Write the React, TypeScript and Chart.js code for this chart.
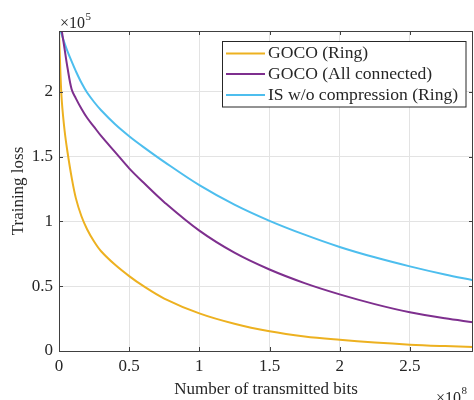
import { useEffect, useRef } from "react";
import { Chart, registerables } from "chart.js";

Chart.register(...registerables);

// x values in units of 1e8 bits, y values in units of 1e5
const bits = [0, 0.01, 0.02, 0.04, 0.06, 0.09, 0.12, 0.16, 0.2, 0.25, 0.3, 0.4, 0.5, 0.6, 0.75, 1.0, 1.25, 1.5, 1.75, 2.0, 2.25, 2.5, 2.75, 2.95];
const gocoRing = [2.47, 2.15, 1.93, 1.7, 1.54, 1.34, 1.18, 1.04, 0.94, 0.845, 0.77, 0.665, 0.578, 0.502, 0.405, 0.29, 0.21, 0.152, 0.112, 0.086, 0.065, 0.049, 0.038, 0.031];
const gocoAll = [2.6, 2.54, 2.47, 2.33, 2.19, 2.02, 1.95, 1.87, 1.8, 1.73, 1.66, 1.535, 1.41, 1.302, 1.149, 0.929, 0.759, 0.629, 0.524, 0.437, 0.362, 0.299, 0.252, 0.222];
const isRing = [2.51, 2.475, 2.44, 2.375, 2.315, 2.235, 2.16, 2.07, 1.995, 1.922, 1.858, 1.75, 1.658, 1.576, 1.46, 1.28, 1.13, 1.005, 0.898, 0.803, 0.723, 0.653, 0.59, 0.546];

const seriesLabels = ["GOCO (Ring)", "GOCO (All connected)", "IS w/o compression (Ring)"];
const seriesColors = ["#EDB120", "#7E2F8E", "#4DBEEE"];
const xTicks = [0, 0.5, 1, 1.5, 2, 2.5];
const yTicks = [0, 0.5, 1, 1.5, 2];
const xMax = 2.95;
const yMax = 2.47;
const xTitle = "Number of transmitted bits";
const yTitle = "Training loss";
const xExponent = "8";
const yExponent = "5";

const FONT = "'Liberation Serif', 'Times New Roman', serif";
const TEXT = "#262626";
const AXIS = "#404040";

const boxPlugin = {
  id: "matlabBox",
  afterDraw(chart: any) {
    const { ctx, chartArea: a, scales } = chart;
    ctx.save();
    // axes box
    ctx.strokeStyle = AXIS;
    ctx.lineWidth = 1;
    ctx.strokeRect(Math.round(a.left) + 0.5, Math.round(a.top) + 0.5, Math.round(a.right - a.left) - 1, Math.round(a.bottom - a.top));
    // inner ticks
    const tl = 4;
    ctx.beginPath();
    for (const v of xTicks) {
      const x = Math.round(scales.x.getPixelForValue(v)) + 0.5;
      ctx.moveTo(x, a.bottom);
      ctx.lineTo(x, a.bottom - tl);
      ctx.moveTo(x, a.top);
      ctx.lineTo(x, a.top + tl);
    }
    for (const v of yTicks) {
      const y = Math.round(scales.y.getPixelForValue(v)) + 0.5;
      ctx.moveTo(a.left, y);
      ctx.lineTo(a.left + tl, y);
      ctx.moveTo(a.right, y);
      ctx.lineTo(a.right - tl, y);
    }
    ctx.stroke();

    // legend
    const lx = 222.5, ly = 41.5, lw = 243.5, lh = 65.5;
    ctx.fillStyle = "#ffffff";
    ctx.fillRect(lx, ly, lw, lh);
    ctx.strokeStyle = "#262626";
    ctx.strokeRect(lx, ly, lw, lh);
    ctx.font = `17.6px ${FONT}`;
    ctx.textBaseline = "middle";
    ctx.textAlign = "left";
    const rows = [53.5, 74, 95];
    chart.data.datasets.forEach((ds: any, i: number) => {
      ctx.strokeStyle = ds.borderColor;
      ctx.lineWidth = 2;
      ctx.beginPath();
      ctx.moveTo(226, rows[i]);
      ctx.lineTo(265, rows[i]);
      ctx.stroke();
      ctx.fillStyle = TEXT;
      ctx.fillText(ds.label, 268, rows[i]);
    });

    // exponent labels
    ctx.fillStyle = TEXT;
    ctx.textBaseline = "alphabetic";
    ctx.font = `16px ${FONT}`;
    ctx.fillText("\u00D710", 60, 28);
    const w1 = ctx.measureText("\u00D710").width;
    ctx.font = `11px ${FONT}`;
    ctx.fillText(yExponent, 60 + w1 + 0.5, 20);
    ctx.font = `16px ${FONT}`;
    ctx.fillText("\u00D710", 436, 403);
    const w2 = ctx.measureText("\u00D710").width;
    ctx.font = `11px ${FONT}`;
    ctx.fillText(xExponent, 436 + w2 + 0.5, 394);
    ctx.restore();
  },
};

export default function App() {
  const ref = useRef<HTMLCanvasElement | null>(null);
  useEffect(() => {
    if (!ref.current) return;
    const series = [gocoRing, gocoAll, isRing];
    const chart = new Chart(ref.current, {
      type: "line",
      data: {
        datasets: series.map((s, i) => ({
          label: seriesLabels[i],
          data: bits.map((x, j) => ({ x, y: s[j] })),
          borderColor: seriesColors[i],
          backgroundColor: seriesColors[i],
          borderWidth: 2,
          pointRadius: 0,
          tension: 0.35,
          fill: false,
        })),
      },
      options: {
        animation: false,
        responsive: false,
        devicePixelRatio: 1,
        layout: { padding: { left: 0, right: 1, top: 31, bottom: 0 } },
        plugins: { legend: { display: false }, tooltip: { enabled: false } },
        scales: {
          x: {
            type: "linear",
            min: 0,
            max: xMax,
            afterBuildTicks: (scale: any) => {
              scale.ticks = xTicks.map((v) => ({ value: v }));
            },
            afterFit: (scale: any) => {
              scale.height = 49;
            },
            grid: { color: "#e3e3e3", drawTicks: false, lineWidth: 1 },
            border: { display: false },
            ticks: {
              padding: 5,
              color: TEXT,
              font: { family: FONT, size: 17 },
              maxRotation: 0,
              callback: (v: any) => String(v),
            },
            title: {
              display: true,
              text: xTitle,
              color: TEXT,
              font: { family: FONT, size: 17 },
              padding: { top: 0, bottom: 0 },
            },
          },
          y: {
            type: "linear",
            min: 0,
            max: yMax,
            afterBuildTicks: (scale: any) => {
              scale.ticks = yTicks.map((v) => ({ value: v }));
            },
            afterFit: (scale: any) => {
              scale.width = 59;
            },
            grid: { color: "#e3e3e3", drawTicks: false, lineWidth: 1 },
            border: { display: false },
            ticks: {
              padding: 6,
              color: TEXT,
              font: { family: FONT, size: 17 },
              callback: (v: any) => String(v),
            },
            title: {
              display: true,
              text: yTitle,
              color: TEXT,
              font: { family: FONT, size: 17 },
              padding: { top: 8, bottom: 0 },
            },
          },
        },
      },
      plugins: [boxPlugin],
    });
    return () => chart.destroy();
  }, []);
  return (
    <div style={{ position: "absolute", left: 0, top: 0, width: 474, height: 400, background: "#fff" }}>
      <canvas ref={ref} width={474} height={400} style={{ width: 474, height: 400, display: "block" }} />
    </div>
  );
}
